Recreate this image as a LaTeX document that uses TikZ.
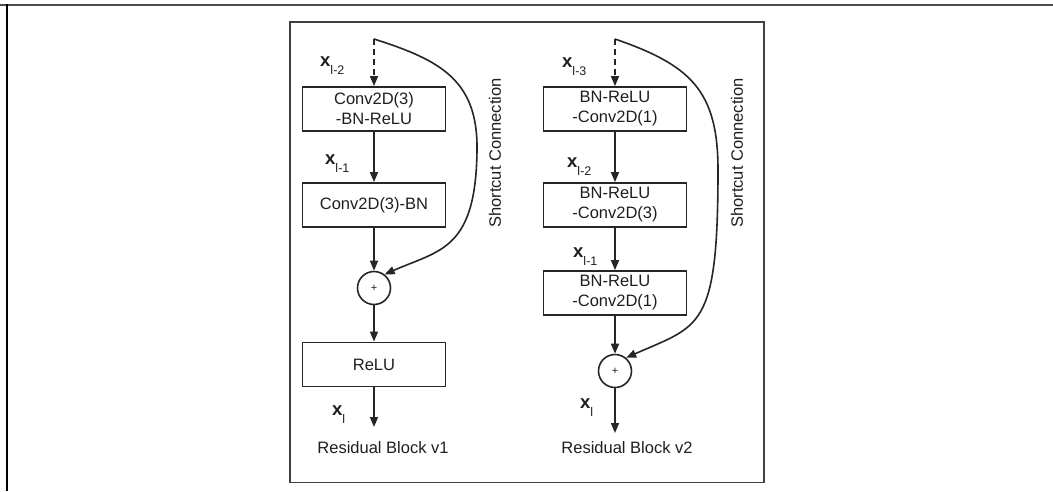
\documentclass[tikz,border=0pt]{standalone}
\usepackage{fontspec}
\setmainfont{Liberation Sans}
\usetikzlibrary{arrows.meta}
\newcommand{\xsub}[1]{{\fontsize{18.5}{20}\selectfont\bfseries x}\raisebox{-8pt}{\fontsize{12.5}{12.5}\selectfont #1}}
\begin{document}
\begin{tikzpicture}[x=1pt,y=-1pt,
  every node/.style={text=black!88},
  stepbox/.style={draw=black!85,line width=1.8pt,minimum width=143pt,minimum height=44pt,inner sep=0pt,align=center,font=\fontsize{16.5}{20}\selectfont},
  addnode/.style={draw=black!85,line width=1.6pt,circle,minimum size=33pt,inner sep=0pt,font=\fontsize{11}{11}\selectfont},
  flow/.style={line width=1.6pt,draw=black!85,-{Triangle[length=10pt,width=8pt]}},
  dflow/.style={flow,dash pattern=on 6pt off 4pt},
  lab/.style={anchor=base west,inner sep=0pt},
  captext/.style={font=\fontsize{16.5}{20}\selectfont,inner sep=0pt,anchor=base}]
\useasboundingbox (0,0) rectangle (1053,491);
\fill[white] (0,0) rectangle (1053,491);
% outer frame lines
\draw[line width=2pt,black!70] (0,5) -- (1053,5);
\draw[line width=2pt,black] (7,4) -- (7,491);
% inner frame
\draw[line width=1.5pt,black!75] (290,22) rectangle (764,482.5);

% ---------- v1 ----------
\coordinate (s1) at (374,39);
\node[stepbox] (a1) at (374,109) {Conv2D(3)\\-BN-ReLU};
\node[stepbox] (a2) at (374,205) {Conv2D(3)-BN};
\node[addnode] (p1) at (374,288) {+};
\node[stepbox] (a3) at (374,364.5) {ReLU};
\coordinate (e1) at (374,427);
\draw[dflow] (s1) -- (a1);
\draw[flow] (a1) -- (a2);
\draw[flow] (a2) -- (p1);
\draw[flow] (p1) -- (a3);
\draw[flow] (a3) -- (e1);
\draw[flow] (s1) .. controls (440,60) and (478,80) .. (477,150) .. controls (476,250) and (440,250) .. (p1.52);
\node[lab] (l11) at (320,66) {\xsub{l-2}};
\node[lab] (l12) at (325,164) {\xsub{l-1}};
\node[lab] (l13) at (332,415) {\xsub{l}};
\node[captext] (c1) at (383,453) {Residual Block v1};
\node[rotate=90,font=\fontsize{16.5}{20}\selectfont,inner sep=0pt] (sc1) at (495,153) {Shortcut Connection};

% ---------- v2 ----------
\coordinate (s2) at (615,39);
\node[stepbox] (b1) at (615,109) {BN-ReLU\\-Conv2D(1)};
\node[stepbox] (b2) at (615,205) {BN-ReLU\\-Conv2D(3)};
\node[stepbox] (b3) at (615,293) {BN-ReLU\\-Conv2D(1)};
\node[addnode] (p2) at (615,371) {+};
\coordinate (e2) at (615,433);
\draw[dflow] (s2) -- (b1);
\draw[flow] (b1) -- (b2);
\draw[flow] (b2) -- (b3);
\draw[flow] (b3) -- (p2);
\draw[flow] (p2) -- (e2);
\draw[flow] (s2) .. controls (690,65) and (718,90) .. (718,170) .. controls (718,330) and (700,325) .. (p2.50);
\node[lab] (l21) at (562,67) {\xsub{l-3}};
\node[lab] (l22) at (567,167) {\xsub{l-2}};
\node[lab] (l23) at (573,257) {\xsub{l-1}};
\node[lab] (l24) at (580,408) {\xsub{l}};
\node[captext] (c2) at (627,453) {Residual Block v2};
\node[rotate=90,font=\fontsize{16.5}{20}\selectfont,inner sep=0pt] (sc2) at (737,153) {Shortcut Connection};
\end{tikzpicture}
\end{document}
